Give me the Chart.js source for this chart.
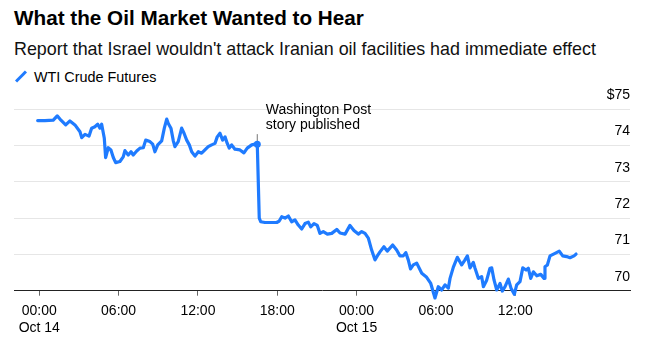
<!DOCTYPE html>
<html>
<head>
<meta charset="utf-8">
<script src="https://cdn.jsdelivr.net/npm/chart.js@4.4.1/dist/chart.umd.min.js"></script>
<style>
  html, body { margin: 0; padding: 0; background: #fff; }
  body {
    width: 647px; height: 340px; position: relative; overflow: hidden;
    font-family: 'Liberation Sans', Arial, sans-serif; color: #000;
  }
  #chart { position: absolute; left: 0; top: 0; }
  .title { position: absolute; left: 14px; top: 6px; font-size: 20.7px; font-weight: bold; white-space: nowrap; }
  .subtitle { position: absolute; left: 14px; top: 39px; font-size: 17.9px; color: #111; white-space: nowrap; }
  .legend { position: absolute; left: 14px; top: 69px; font-size: 14.4px; white-space: nowrap; }
  .legend .swatch {
    display: inline-block; width: 14px; height: 3px; background: #1f7bff;
    transform: rotate(-45deg); vertical-align: middle; margin: 0 6px 3px 0;
  }
</style>
</head>
<body>
<div class="title">What the Oil Market Wanted to Hear</div>
<div class="subtitle">Report that Israel wouldn't attack Iranian oil facilities had immediate effect</div>
<div class="legend"><span class="swatch"></span>WTI Crude Futures</div>
<canvas id="chart" width="647" height="340"></canvas>
<script>
// hours since 00:00 Oct 14
const hours = [
  -0.12, 0.43, 1.06, 1.36, 1.64, 2.00, 2.32, 2.70, 3.08, 3.21, 3.46, 3.76, 3.96, 4.21, 4.42, 4.59,
  4.72, 4.92, 5.02, 5.22, 5.42, 5.60, 5.78, 6.10, 6.35, 6.48, 6.73, 6.94, 7.11, 7.37, 7.62, 7.87,
  8.05, 8.37, 8.58, 8.75, 8.96, 9.26, 9.46, 9.64, 9.76, 9.96, 10.14, 10.26, 10.51, 10.77, 10.95, 11.15,
  11.35, 11.53, 11.78, 12.03, 12.28, 12.53, 12.78, 13.04, 13.29, 13.46, 13.67, 13.87, 14.05, 14.22,
  14.37, 14.55, 14.80, 15.18, 15.48, 15.73, 16.07, 16.32, 16.49,
  16.64, 16.75, 17.07, 17.45, 17.96, 18.15, 18.34, 18.59, 18.84, 19.09, 19.34, 19.59, 19.85, 20.10,
  20.35, 20.53, 20.78, 21.03, 21.23, 21.48, 21.79, 22.12, 22.50, 22.75, 23.13, 23.50, 23.80, 24.13,
  24.39, 24.64, 24.89, 25.14, 25.39, 25.57, 25.77, 26.07, 26.32, 26.73, 27.03, 27.28, 27.53, 27.72,
  27.91, 28.08, 28.29, 28.55, 28.93, 29.30, 29.61, 29.93, 30.18, 30.44, 30.69, 30.94, 31.07, 31.32,
  31.62, 31.95, 32.20, 32.38, 32.58, 32.83, 32.96, 33.21, 33.46, 33.59, 33.84, 34.09, 34.22, 34.40,
  34.60, 34.85, 35.02, 35.23, 35.48, 35.68, 35.93, 36.11, 36.36, 36.57, 36.82, 36.99, 37.17, 37.37,
  37.63, 37.93, 38.18, 38.25, 38.43, 38.63, 39.01, 39.33, 39.59, 39.89, 40.14, 40.45, 40.60
];

// WTI crude futures, $/bbl
const prices = [
  74.69, 74.69, 74.70, 74.82, 74.70, 74.57, 74.68, 74.57, 74.38, 74.22, 74.31, 74.26, 74.48, 74.52, 74.59, 74.48,
  74.59, 74.20, 73.67, 73.94, 73.88, 73.67, 73.53, 73.56, 73.69, 73.86, 73.74, 73.83, 73.74, 73.85, 73.93, 73.94,
  74.15, 74.11, 74.04, 73.83, 74.02, 74.13, 74.48, 74.73, 74.61, 74.48, 74.13, 73.97, 74.11, 74.48, 74.34, 74.15,
  74.02, 73.83, 73.71, 73.83, 73.79, 73.88, 73.97, 74.02, 74.06, 74.24, 74.34, 74.15, 74.24, 74.06,
  73.93, 74.02, 73.90, 73.88, 73.80, 73.93, 74.02, 74.04, 74.04,
  72.00, 71.90, 71.88, 71.88, 71.88, 71.92, 72.04, 72.00, 72.06, 71.90, 71.95, 71.81, 71.70, 71.85,
  71.89, 71.76, 71.85, 71.80, 71.58, 71.63, 71.56, 71.58, 71.69, 71.59, 71.56, 71.80, 71.66, 71.56,
  71.63, 71.58, 71.45, 71.12, 70.85, 70.96, 71.07, 71.21, 71.09, 71.26, 71.12, 70.96, 70.96, 71.05,
  70.85, 70.60, 70.71, 70.76, 70.48, 70.37, 70.20, 69.80, 70.11, 70.02, 70.16, 70.07, 70.34, 70.65,
  70.92, 70.71, 70.85, 70.96, 70.63, 70.78, 70.62, 70.34, 70.39, 70.11, 70.29, 70.62, 70.63, 70.29,
  70.02, 70.20, 69.99, 70.11, 70.32, 70.07, 69.90, 70.16, 70.25, 70.63, 70.57, 70.62, 70.34, 70.52,
  70.41, 70.45, 70.34, 70.66, 70.71, 70.96, 71.03, 71.09, 70.96, 70.94, 70.91, 70.96, 71.01
];

const storyHour = 16.49;
const storyIndex = hours.indexOf(storyHour);
const storyNoteLines = ['Washington Post', 'story published'];

const xTicks = [0, 6, 12, 18, 24, 30, 36];
const xTickLabels = [['00:00', 'Oct 14'], '06:00', '12:00', '18:00', ['00:00', 'Oct 15'], '06:00', '12:00'];
const yTicks = [70, 71, 72, 73, 74, 75];

const blue = '#1f7bff';
const fontFamily = "'Liberation Sans', Arial, sans-serif";

// gray stem + two-line label above the story point
const storyNote = {
  id: 'storyNote',
  beforeDatasetsDraw(chart) {
    const { ctx, scales: { x, y } } = chart;
    const px = x.getPixelForValue(hours[storyIndex]);
    const py = y.getPixelForValue(prices[storyIndex]);
    ctx.save();
    ctx.strokeStyle = '#777';
    ctx.lineWidth = 1;
    ctx.beginPath();
    ctx.moveTo(px, py);
    ctx.lineTo(px, py - 10);
    ctx.stroke();
    ctx.fillStyle = '#000';
    ctx.font = '14px ' + fontFamily;
    ctx.textBaseline = 'middle';
    storyNoteLines.forEach((t, i) => ctx.fillText(t, px + 8.5, py - 33.6 + i * 14.3));
    ctx.restore();
  }
};

new Chart(document.getElementById('chart'), {
  type: 'line',
  data: {
    datasets: [{
      data: hours.map((h, i) => ({ x: h, y: prices[i] })),
      borderColor: blue,
      borderWidth: 3.2,
      borderJoinStyle: 'round',
      borderCapStyle: 'round',
      tension: 0,
      clip: false,
      pointRadius: c => (c.dataIndex === storyIndex ? 3.5 : 0),
      pointBackgroundColor: blue,
      pointBorderWidth: 0
    }]
  },
  options: {
    responsive: false,
    animation: false,
    layout: { padding: { left: 14, right: 17, top: 109.3, bottom: 0 } },
    plugins: {
      legend: { display: false },
      tooltip: { enabled: false }
    },
    scales: {
      x: {
        type: 'linear',
        min: -1.91,
        max: 44.68,
        afterBuildTicks: s => { s.ticks = xTicks.map(v => ({ value: v })); },
        afterFit: s => { s.height = 49.3; },
        grid: { drawOnChartArea: false, drawTicks: true, tickLength: 5, color: '#666' },
        border: { color: '#222', width: 1 },
        ticks: {
          autoSkip: false,
          maxRotation: 0,
          padding: 7,
          color: '#000',
          font: { family: fontFamily, size: 14 },
          callback: (v, i) => xTickLabels[i]
        }
      },
      y: {
        position: 'right',
        min: 70,
        max: 75,
        afterBuildTicks: s => { s.ticks = yTicks.map(v => ({ value: v })); },
        afterFit: s => { s.width = 0; },
        grid: {
          drawTicks: false,
          color: c => (c.tick && c.tick.value === 70 ? 'rgba(0,0,0,0)' : '#e6e6e6')
        },
        border: { display: false },
        ticks: {
          mirror: true,
          padding: 0,
          labelOffset: -14,
          color: '#000',
          font: { family: fontFamily, size: 14 },
          callback: v => (v === 75 ? '$75' : String(v))
        }
      }
    }
  },
  plugins: [storyNote]
});
</script>
</body>
</html>
